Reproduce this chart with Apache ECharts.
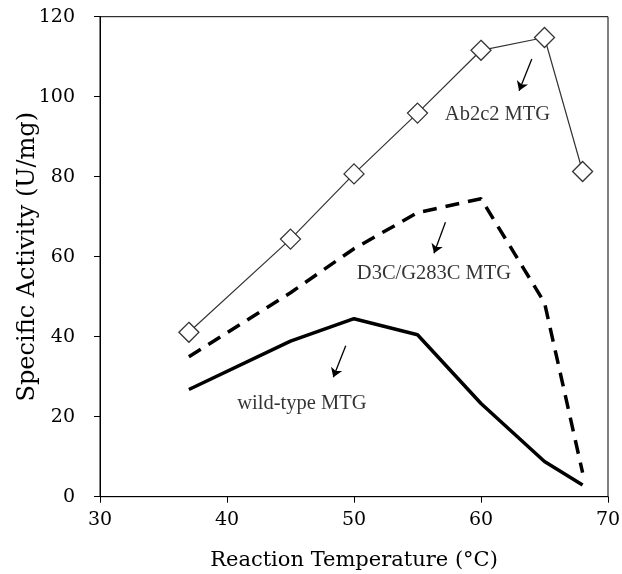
<!DOCTYPE html>
<html>
<head>
<meta charset="utf-8">
<script src="https://cdn.jsdelivr.net/npm/echarts@6/dist/echarts.min.js"></script>
<style>
  html, body { margin: 0; padding: 0; background: #fff; }
  #chartContainer { width: 622px; height: 574px; }
</style>
</head>
<body>
<div id="chartContainer"></div>
<script>
// reaction temperatures (°C)
const temps = [37, 45, 50, 55, 60, 65, 68];
// specific activity (U/mg)
const ab2c2 = [41.1, 64.4, 80.7, 95.9, 111.6, 114.8, 81.3];
const d3c = [35, 51, 62, 71, 74.5, 48.5, 6];
const wildType = [26.8, 38.9, 44.5, 40.5, 23.3, 8.8, 2.9];

// annotation texts and their places (data units)
const noteText = ['Ab2c2 MTG', 'D3C/G283C MTG', 'wild-type MTG'];
const noteX = [61.3, 56.3, 45.9];
const noteY = [95.4, 55.7, 23.2];
// arrows: start -> end (data units)
const arrowFrom = [[64.0, 109.4], [57.2, 68.6], [49.35, 37.75]];
const arrowTo = [[63.0, 101.5], [56.3, 60.85], [48.37, 29.85]];

const serif = 'DejaVu Serif';

function pairs(ys) {
	return temps.map((t, i) => [t, ys[i]]);
}

const chart = echarts.init(document.getElementById('chartContainer'));

const option = {
	animation: false,
	grid: {
		left: 100,
		top: 16.7,
		right: 14,
		bottom: 77.3,
		outerBoundsMode: 'none',
		containLabel: false,
		show: true,
		borderColor: '#000',
		borderWidth: 1
	},
	xAxis: {
		type: 'value',
		min: 30,
		max: 70,
		interval: 10,
		name: 'Reaction Temperature (°C)',
		nameLocation: 'middle',
		nameGap: 53,
		nameMoveOverlap: false,
		nameTextStyle: { fontFamily: serif, fontSize: 21, color: '#000' },
		axisLine: { show: true, lineStyle: { color: '#000', width: 1 } },
		axisTick: { show: true, length: 6, lineStyle: { color: '#000' } },
		axisLabel: { fontFamily: serif, fontSize: 19, color: '#000', margin: 14 },
		splitLine: { show: false }
	},
	yAxis: {
		type: 'value',
		min: 0,
		max: 120,
		interval: 20,
		name: 'Specific Activity (U/mg)',
		nameLocation: 'middle',
		nameGap: 60,
		nameMoveOverlap: false,
		nameTextStyle: { fontFamily: serif, fontSize: 24, color: '#000' },
		axisLine: { show: true, lineStyle: { color: '#000', width: 1 } },
		axisTick: { show: true, length: 6, lineStyle: { color: '#000' } },
		axisLabel: { fontFamily: serif, fontSize: 19, color: '#000', margin: 25 },
		splitLine: { show: false }
	},
	series: [{
			name: 'Ab2c2 MTG',
			type: 'line',
			data: pairs(ab2c2),
			symbol: 'diamond',
			symbolSize: 20,
			showAllSymbol: true,
			lineStyle: { color: '#333', width: 1.2 },
			itemStyle: { color: '#fff', borderColor: '#333', borderWidth: 1.3 },
			z: 5
		},
		{
			name: 'D3C/G283C MTG',
			type: 'line',
			data: pairs(d3c),
			symbol: 'none',
			lineStyle: { color: '#000', width: 3.5, type: [14, 9] }
		},
		{
			name: 'wild-type MTG',
			type: 'line',
			data: pairs(wildType),
			symbol: 'none',
			lineStyle: { color: '#000', width: 3.5 }
		},
		{
			// annotation labels and arrows
			type: 'scatter',
			silent: true,
			symbolSize: 0,
			data: noteText.map((s, i) => [noteX[i], noteY[i], s]),
			label: {
				show: true,
				position: 'inside',
				formatter: p => p.data[2],
				fontFamily: 'Liberation Serif',
				fontSize: 20.5,
				color: '#000'
			},
			markLine: {
				silent: true,
				symbol: ['none', 'arrow'],
				symbolSize: 9,
				label: { show: false },
				lineStyle: { color: '#000', width: 1.3, type: 'solid' },
				data: arrowFrom.map((a, i) => [{ coord: a }, { coord: arrowTo[i] }])
			}
		}
	]
};

chart.setOption(option);
</script>
</body>
</html>
